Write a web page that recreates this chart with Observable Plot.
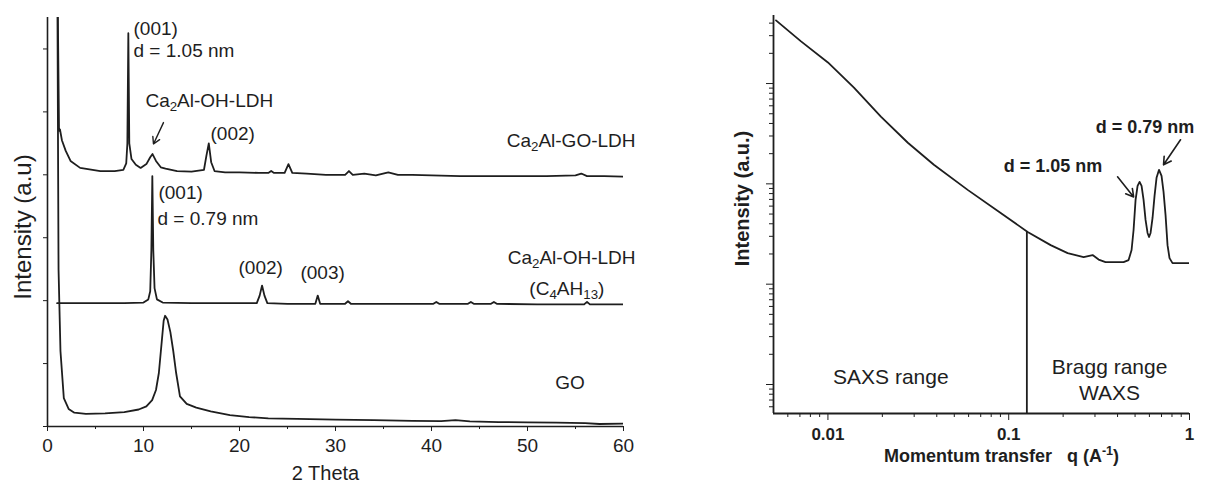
<!DOCTYPE html>
<html><head><meta charset="utf-8">
<script src="https://cdn.jsdelivr.net/npm/d3@7"></script>
<script src="https://cdn.jsdelivr.net/npm/@observablehq/plot@0.6"></script>
<style>
html,body{margin:0;padding:0;background:#fff;}
#wrap{position:relative;width:1207px;height:483px;overflow:hidden;background:#fff;}
#left{position:absolute;left:0;top:0;}
#right{position:absolute;left:700px;top:0;}
</style></head><body><div id="wrap"><div id="left"></div><div id="right"></div></div>
<script>
const FONT = '"Liberation Sans", Arial, Helvetica, sans-serif';
const INK = "#1e1e1e";

// ---------- Left panel: XRD patterns (2 Theta vs stacked intensity, a.u.) ----------
const goTheta = [1.0, 1.15, 1.35, 1.7, 2.2, 2.8, 4, 6, 8, 9.5, 10.3, 10.9, 11.3, 11.6, 11.9, 12.1, 12.25, 12.5, 12.8, 13.1, 13.4, 13.8, 14.5, 15.5, 17, 19, 21, 23, 26, 30, 34, 38, 41, 42.5, 44, 47, 50, 53, 56, 57.5, 60];
const goInt   = [8.0, 2.5, 1.2, 0.45, 0.28, 0.22, 0.2, 0.21, 0.23, 0.27, 0.32, 0.42, 0.58, 0.85, 1.35, 1.68, 1.76, 1.7, 1.5, 1.2, 0.85, 0.48, 0.36, 0.3, 0.24, 0.18, 0.15, 0.13, 0.12, 0.11, 0.1, 0.09, 0.085, 0.1, 0.08, 0.07, 0.065, 0.06, 0.055, 0.04, 0.045];

const ldhGoTheta = [1.0, 1.1, 1.2, 1.3, 1.5, 1.9, 2.4, 3.4, 5.5, 7.0, 7.9, 8.2, 8.32, 8.42, 8.52, 8.75, 9.2, 9.7, 10.3, 10.7, 10.94, 11.3, 11.8, 12.3, 13.5, 15, 16.3, 16.55, 16.8, 17.05, 17.4, 18.5, 20, 22, 23, 23.3, 23.6, 24.7, 25.1, 25.5, 27, 29, 31.0, 31.4, 31.8, 33, 34.2, 35.5, 36.5, 38, 40, 43, 46, 49, 52, 55, 55.6, 56.2, 58, 60];
const ldhGoInt   = [8.0, 6.2, 4.7, 4.72, 4.55, 4.38, 4.22, 4.11, 4.06, 4.06, 4.08, 4.18, 4.5, 6.25, 4.5, 4.25, 4.16, 4.11, 4.17, 4.28, 4.33, 4.22, 4.12, 4.1, 4.06, 4.05, 4.08, 4.3, 4.5, 4.2, 4.06, 4.04, 4.04, 4.03, 4.03, 4.06, 4.03, 4.03, 4.17, 4.03, 4.02, 4.0, 4.0, 4.06, 4.0, 4.02, 3.99, 4.04, 4.0, 4.0, 3.99, 3.98, 3.98, 3.98, 3.98, 3.99, 4.02, 3.98, 3.98, 3.97];

const ldhOhTheta = [1.0, 4, 8, 10.0, 10.5, 10.7, 10.82, 10.92, 11.02, 11.15, 11.4, 12, 15, 19, 21.8, 22.1, 22.35, 22.6, 22.9, 25, 27.9, 28.15, 28.4, 31, 31.3, 31.6, 36, 40.2, 40.5, 40.8, 43.8, 44.1, 44.4, 46.2, 46.5, 46.8, 51, 55.9, 56.2, 56.5, 60];
const ldhOhInt   = [1.96, 1.96, 1.96, 1.97, 2.02, 2.15, 2.8, 3.98, 2.8, 2.2, 2.02, 1.97, 1.96, 1.96, 1.96, 2.08, 2.24, 2.08, 1.96, 1.95, 1.95, 2.08, 1.95, 1.95, 1.99, 1.95, 1.95, 1.95, 1.98, 1.95, 1.95, 1.98, 1.95, 1.95, 1.98, 1.95, 1.94, 1.94, 1.98, 1.94, 1.94];

const leftXTicks = [0, 10, 20, 30, 40, 50, 60];
const leftXMinor = [5, 15, 25, 35, 45, 55];
const leftYTicks = [0, 1, 2, 3, 4, 5, 6];

const leftLabelsStart = [
  {text: "(001)", x: 8.96, y: 6.32},
  {text: "d = 1.05 nm", x: 8.96, y: 5.97},
  {text: "Ca_{2}Al-OH-LDH", x: 10.2, y: 5.17},
  {text: "(002)", x: 16.98, y: 4.65},
  {text: "(001)", x: 11.56, y: 3.71},
  {text: "d = 0.79 nm", x: 11.46, y: 3.30},
  {text: "(002)", x: 19.9, y: 2.52},
  {text: "(003)", x: 26.35, y: 2.44},
  {text: "GO", x: 52.9, y: 0.70}
];
const leftLabelsEnd = [
  {text: "Ca_{2}Al-GO-LDH", x: 61.25, y: 4.54},
  {text: "Ca_{2}Al-OH-LDH", x: 61.25, y: 2.68}
];
const leftLabelsMiddle = [
  {text: "(C_{4}AH_{13})", x: 54.1, y: 2.19}
];
const leftArrows = [{x1: 12.08, y1: 4.83, x2: 11.04, y2: 4.49}];

// ---------- Right panel: SAXS/WAXS curve (log-log) ----------
const saxsQ = [0.00516, 0.0071, 0.01, 0.01393, 0.01963, 0.02767, 0.03855, 0.0593, 0.0903, 0.1273, 0.1706, 0.2118, 0.2597, 0.2911, 0.3143, 0.3432, 0.4318, 0.4603, 0.4782, 0.4905, 0.5032, 0.5162, 0.5295, 0.5431, 0.5571, 0.5714, 0.5861, 0.5974, 0.6091, 0.6246, 0.6407, 0.6572, 0.6784, 0.7004, 0.7185, 0.737, 0.7559, 0.7753, 0.8055, 0.8918, 0.9874];
const saxsI = [42660, 26300, 16220, 9120, 4680, 2570, 1549, 871, 513, 331, 245, 204, 186, 195, 176, 166, 166, 174, 219, 347, 692, 955, 1047, 955, 692, 437, 324, 295, 324, 457, 759, 1148, 1380, 1202, 832, 490, 245, 182, 162, 162, 162];
const dividerQ = [0.126];
const dividerI = [331];

const rightXTicks = [0.01, 0.1, 1];
const rightXMinor = [0.006, 0.007, 0.008, 0.009, 0.02, 0.03, 0.04, 0.05, 0.06, 0.07, 0.08, 0.09, 0.2, 0.3, 0.4, 0.5, 0.6, 0.7, 0.8, 0.9];
const rightYTicks = [10, 100, 1000, 10000];
const rightYMinor = [6, 7, 8, 9, 20, 30, 40, 50, 60, 70, 80, 90, 200, 300, 400, 500, 600, 700, 800, 900, 2000, 3000, 4000, 5000, 6000, 7000, 8000, 9000, 20000, 30000, 40000];

const rightLabelsBold = [
  {text: "d = 1.05 nm", x: 0.0938, y: 1514},
  {text: "d = 0.79 nm", x: 0.3026, y: 3631}
];
const rightLabelsMiddle = [
  {text: "SAXS range", x: 0.02229, y: 11.7},
  {text: "Bragg range", x: 0.3614, y: 14.8},
  {text: "WAXS", x: 0.3614, y: 8.13}
];
const rightArrows = [
  {x1: 0.400, y1: 1175, x2: 0.491, y2: 741},
  {x1: 0.892, y1: 2754, x2: 0.7185, y2: 1549}
];

// ---------- build tables ----------
const xrd = [
  ...goTheta.map((t, i) => ({sample: "GO", theta: t, I: goInt[i]})),
  ...ldhGoTheta.map((t, i) => ({sample: "Ca2Al-GO-LDH", theta: t, I: ldhGoInt[i]})),
  ...ldhOhTheta.map((t, i) => ({sample: "Ca2Al-OH-LDH", theta: t, I: ldhOhInt[i]}))
];
const saxs = saxsQ.map((q, i) => ({q, I: saxsI[i]}));
const divider = dividerQ.map((q, i) => ({q, I: dividerI[i]}));

const blank = () => "";

const left = Plot.plot({
  width: 680, height: 483,
  marginLeft: 47, marginRight: 57, marginTop: 17, marginBottom: 57,
  style: {fontFamily: FONT, fontSize: "19px", color: INK, background: "transparent", overflow: "visible"},
  x: {domain: [0, 60]},
  y: {domain: [0, 6.5]},
  marks: [
    Plot.line(xrd, {x: "theta", y: "I", z: "sample", stroke: INK, strokeWidth: 1.8, clip: true}),
    Plot.ruleX([0], {stroke: INK, strokeWidth: 1.6}),
    Plot.ruleY([0], {stroke: INK, strokeWidth: 1.6}),
    Plot.axisX({ticks: leftXTicks, tickSize: 5, tickPadding: 7, tickFormat: d => String(d), label: null, fontSize: 19}),
    Plot.axisX({ticks: leftXMinor, tickSize: 3, tickFormat: blank, label: null}),
    Plot.axisY({ticks: leftYTicks, tickSize: 4, tickFormat: blank, label: null}),
    Plot.text(leftLabelsStart, {x: "x", y: "y", text: "text", textAnchor: "start", fontSize: 19, fill: INK}),
    Plot.text(leftLabelsEnd, {x: "x", y: "y", text: "text", textAnchor: "end", fontSize: 19, fill: INK}),
    Plot.text(leftLabelsMiddle, {x: "x", y: "y", text: "text", textAnchor: "middle", fontSize: 19, fill: INK}),
    Plot.arrow(leftArrows, {x1: "x1", y1: "y1", x2: "x2", y2: "y2", stroke: INK, strokeWidth: 1.4, headLength: 8}),
    Plot.text(["2 Theta"], {frameAnchor: "bottom", lineAnchor: "top", textAnchor: "middle", dy: 39, dx: -10, fontSize: 20, fill: INK}),
    Plot.text(["Intensity (a.u)"], {frameAnchor: "left", textAnchor: "middle", lineAnchor: "middle", rotate: -90, dx: -24, dy: 5, fontSize: 24, fill: INK})
  ]
});

const right = Plot.plot({
  width: 507, height: 483,
  marginLeft: 73, marginRight: 18, marginTop: 15, marginBottom: 70,
  style: {fontFamily: FONT, fontSize: "18px", color: INK, background: "transparent", overflow: "visible"},
  x: {type: "log", domain: [0.005, 1]},
  y: {type: "log", domain: [5.14, 47660]},
  marks: [
    Plot.line(saxs, {x: "q", y: "I", stroke: INK, strokeWidth: 1.8, clip: true}),
    Plot.ruleX(divider, {x: "q", y1: 5.14, y2: "I", stroke: INK, strokeWidth: 1.8}),
    Plot.ruleX([0.005], {stroke: INK, strokeWidth: 1.8}),
    Plot.ruleY([5.14], {stroke: INK, strokeWidth: 1.8}),
    Plot.axisX({ticks: rightXTicks, tickSize: 7, tickPadding: 7, tickFormat: d => String(d), label: null, fontSize: 17, fontWeight: "bold"}),
    Plot.axisX({ticks: rightXMinor, tickSize: 4, tickFormat: blank, label: null}),
    Plot.axisY({ticks: rightYTicks, tickSize: 7, tickFormat: blank, label: null}),
    Plot.axisY({ticks: rightYMinor, tickSize: 4, tickFormat: blank, label: null}),
    Plot.text(rightLabelsBold, {x: "x", y: "y", text: "text", textAnchor: "start", fontSize: 18, fontWeight: "bold", fill: INK}),
    Plot.text(rightLabelsMiddle, {x: "x", y: "y", text: "text", textAnchor: "middle", fontSize: 21, fill: INK}),
    Plot.arrow(rightArrows, {x1: "x1", y1: "y1", x2: "x2", y2: "y2", stroke: INK, strokeWidth: 1.6, headLength: 8}),
    Plot.text(["Momentum transfer\u00A0\u00A0 q (A^{-1})"], {frameAnchor: "bottom", lineAnchor: "top", textAnchor: "middle", dy: 36, dx: 20, fontSize: 18, fontWeight: "bold", fill: INK}),
    Plot.text(["Intensity (a.u.)"], {frameAnchor: "left", textAnchor: "middle", lineAnchor: "middle", rotate: -90, dx: -31, dy: -16, fontSize: 20, fontWeight: "bold", fill: INK})
  ]
});

// rich text: _{sub} and ^{sup}
function rich(svg) {
  const NS = "http://www.w3.org/2000/svg";
  d3.select(svg).selectAll("text").each(function () {
    const el = this;
    const s = el.textContent;
    if (!/[_^]\{/.test(s)) return;
    while (el.firstChild) el.removeChild(el.firstChild);
    const re = /([_^])\{([^}]*)\}/g;
    let last = 0, m, restore = null;
    const add = (txt, dy, small) => {
      if (!txt) return;
      const ts = document.createElementNS(NS, "tspan");
      ts.textContent = txt;
      if (dy) ts.setAttribute("dy", dy);
      if (small) ts.setAttribute("font-size", "70%");
      el.appendChild(ts);
    };
    while ((m = re.exec(s))) {
      const before = s.slice(last, m.index);
      if (before) { add(before, restore, false); restore = null; }
      if (m[1] === "_") {
        add(m[2], restore ? null : "0.3em", true);
        restore = "-0.21em";
      } else {
        add(m[2], restore ? null : "-0.55em", true);
        restore = "0.385em";
      }
      last = re.lastIndex;
    }
    const rest = s.slice(last);
    if (rest) add(rest, restore, false);
  });
}
rich(left);
rich(right);

document.getElementById("left").appendChild(left);
document.getElementById("right").appendChild(right);
</script></body></html>
